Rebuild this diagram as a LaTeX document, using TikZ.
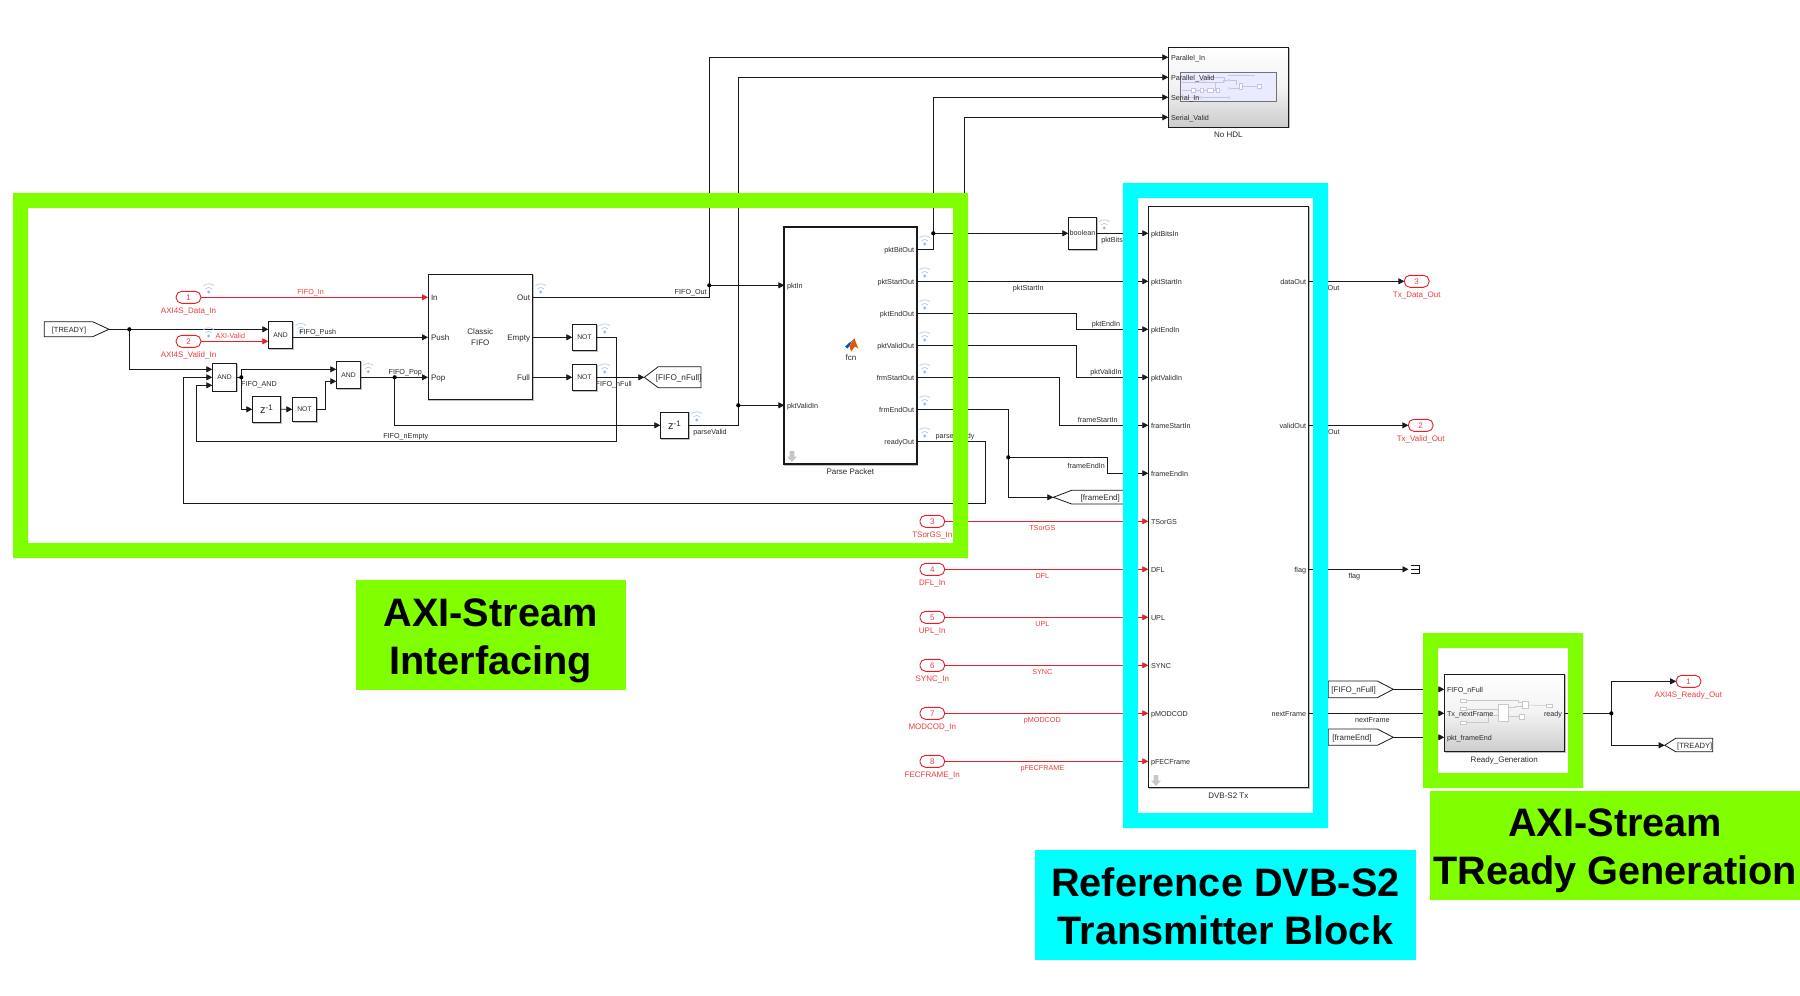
\documentclass[tikz,border=0pt]{standalone}
\usepackage{fontspec}
\setmainfont{Liberation Sans}
\usetikzlibrary{arrows.meta,shadows}
\definecolor{wirec}{HTML}{1A1A1A}
\definecolor{redw}{HTML}{E6202A}
\definecolor{redt}{HTML}{EE3C3C}
\definecolor{txtc}{HTML}{2A2A2A}
\definecolor{lime}{HTML}{80FF00}
\definecolor{aqua}{HTML}{00FFFF}
\definecolor{thumbc}{HTML}{C4C4DC}
\definecolor{thumbg}{HTML}{C8C8C8}
\definecolor{wifid}{HTML}{9CBEE0}
\definecolor{wifia}{HTML}{B5CDE5}
\newcommand{\bk}[7]{%
  \pgfmathsetmacro\bkcx{(#3+#5)/2}\pgfmathsetmacro\bkcy{(#4+#6)/2}%
  \pgfmathsetmacro\bkw{#5-#3}\pgfmathsetmacro\bkh{#6-#4}%
  \node[#1,minimum width=\bkw pt,minimum height=\bkh pt] (#2) at (\bkcx,\bkcy) {#7};}
\newcommand{\dn}[1]{\raisebox{-1pt}{#1}}
\tikzset{
  x=1pt,y=-1pt,
  wire/.style={draw=wirec,line width=0.8pt},
  redwire/.style={draw=redw,line width=0.8pt},
  arr/.style={-{Triangle[length=6pt,width=6pt]}},
  blk/.style={draw=wirec,line width=0.8pt,fill=white,inner sep=0pt,outer sep=0pt,align=center,text=txtc,font=\fontsize{8}{10}\selectfont,
     copy shadow={shadow xshift=0.8pt,shadow yshift=-0.8pt,draw=black!25,fill=black!25}},
  gblk/.style={blk,top color=white,bottom color=black!20,middle color=black!5},
  pill/.style={draw=redw,line width=0.9pt,fill=white,rounded corners=5.5pt,inner sep=0pt,outer sep=0pt,minimum width=24.7pt,minimum height=12pt,text=redt,font=\fontsize{8}{8}\selectfont},
  lab/.style={inner sep=0pt,outer sep=0pt,text=txtc,text height=6pt,text depth=0pt,font=\fontsize{7.2}{9}\selectfont},
  labb/.style={inner sep=0pt,outer sep=0pt,text=txtc,text height=6pt,text depth=0pt,font=\fontsize{8}{10}\selectfont},
  rlab/.style={inner sep=0pt,outer sep=0pt,text=redt,text height=6pt,text depth=0pt,font=\fontsize{7.2}{9}\selectfont},
  rlabb/.style={inner sep=0pt,outer sep=0pt,text=redt,text height=6pt,text depth=0pt,font=\fontsize{8}{10}\selectfont},
  junc/.style={circle,fill=black,inner sep=0pt,minimum size=4.2pt},
  capbox/.style={inner sep=0pt,outer sep=0pt,draw=none},
  bigb/.style={inner sep=0pt,outer sep=0pt,align=center,text=black,font=\fontsize{39.7}{48}\selectfont\bfseries},
  gotoshape/.style={draw=wirec,line width=0.8pt,fill=white,line join=miter},
  wifi/.pic={
    \fill[wifid] (0,0) circle (1.6);
    \draw[line width=0.7pt,draw=wifia] (-3.25,-3.25) arc[start angle=225,end angle=315,radius=4.6];
    \draw[line width=0.7pt,draw=wifia] (-5.27,-6.28) arc[start angle=230,end angle=310,radius=8.2];
  },
  gdown/.pic={
    \fill[black!22] (-2.4,-5.5) -- (2.4,-5.5) -- (2.4,0) -- (5,0) -- (0,5.5) -- (-5,0) -- (-2.4,0) -- cycle;
  }
}
\newcommand{\zinv}{{\fontsize{11}{11}\selectfont z\raisebox{3.2pt}{\fontsize{8}{8}\selectfont -1}}}
\begin{document}
\begin{tikzpicture}
\useasboundingbox (0,0) rectangle (1800,996);
\fill[white] (0,0) rectangle (1800,996);

% ---------- port coordinates
\coordinate (fifoIn) at (428,297.3);
\coordinate (fifoPush) at (428,337.3);
\coordinate (fifoPop) at (428,377.3);
\coordinate (fifoOut) at (532.7,297.3);
\coordinate (fifoEmpty) at (532.7,337.3);
\coordinate (fifoFull) at (532.7,377.3);
\coordinate (aoa) at (268.3,329.3);
\coordinate (aob) at (268.3,341.3);
\coordinate (aoo) at (292.7,337.3);
\coordinate (ata) at (212.3,369.3);
\coordinate (atb) at (212.3,377.3);
\coordinate (atc) at (212.3,385.3);
\coordinate (ato) at (236.7,377.3);
\coordinate (ara) at (336.3,369.3);
\coordinate (arb) at (336.3,381.3);
\coordinate (aro) at (360.7,377.3);
\coordinate (ppIn) at (784.3,285.3);
\coordinate (ppVal) at (784.3,405.3);
\coordinate (hdlA) at (1168.3,57.3);
\coordinate (hdlB) at (1168.3,77.3);
\coordinate (hdlC) at (1168.3,97.3);
\coordinate (hdlD) at (1168.3,117.3);
\coordinate (rgA) at (1444.3,689.3);
\coordinate (rgB) at (1444.3,713.3);
\coordinate (rgC) at (1444.3,737.3);
\coordinate (rgO) at (1564.7,713.3);
\foreach \n/\y in {Bit/249.3,Start/281.3,End/313.3,Vld/345.3,FS/377.3,FE/409.3,Rdy/441.3}
  \coordinate (pp\n) at (916.7,\y);
\foreach \n/\y in {Bits/233.3,Start/281.3,End/329.3,Vld/377.3,FS/425.3,FE/473.3,a/521.3,b/569.3,c/617.3,d/665.3,e/713.3,f/761.3}
  \coordinate (dvp\n) at (1148.3,\y);
\foreach \n/\y in {Data/281.3,Valid/425.3,Flag/569.3,Next/713.3}
  \coordinate (dvo\n) at (1308.7,\y);

% ---------- named blocks
\bk{blk}{fifo}{428}{274.5}{532.7}{399.7}{\raisebox{-1.2pt}{Classic}\\[0.5pt]\raisebox{-1.2pt}{FIFO}}
\bk{blk,font=\fontsize{6.8}{8}\selectfont}{andA}{268.3}{321.7}{292.7}{348.7}{\dn{AND}}
\bk{blk,font=\fontsize{6.8}{8}\selectfont}{andB}{212.3}{363.3}{236.7}{391}{\dn{AND}}
\bk{blk,font=\fontsize{6.8}{8}\selectfont}{andC}{336.3}{361.7}{360.7}{388.7}{\dn{AND}}
\bk{blk}{zA}{252.3}{395.9}{280.7}{422.7}{\zinv}
\bk{blk,font=\fontsize{6.8}{8}\selectfont}{notZ}{292.3}{397.3}{316.7}{421.3}{\dn{NOT}}
\bk{blk}{zB}{660.3}{411.9}{688.7}{438.7}{\zinv}
\bk{blk,font=\fontsize{6.8}{8}\selectfont}{notE}{572.3}{324.3}{596.7}{350.3}{\dn{NOT}}
\bk{blk,font=\fontsize{6.8}{8}\selectfont}{notF}{572.3}{364.3}{596.7}{390.3}{\dn{NOT}}
\bk{blk,line width=1.8pt}{parse}{784.3}{226.7}{916.7}{464}{}
\bk{blk,font=\fontsize{7.2}{9}\selectfont}{bool}{1068.3}{217.3}{1096.7}{249.3}{boolean}
\bk{blk}{dvb}{1148.3}{206.7}{1308.7}{787.3}{}
\bk{gblk}{hdl}{1168.3}{47.3}{1288.7}{127}{}
\bk{gblk}{rg}{1444.3}{674.7}{1564.7}{751.7}{}

% ---------- goto / from tags
\draw[gotoshape] (44.3,321.7) -- (92.7,321.7) -- (109,329.3) -- (92.7,336.7) -- (44.3,336.7) -- cycle;
\coordinate (treadyTip) at (109,329.3);
\node[lab,font=\fontsize{7.4}{9}\selectfont] (treadyTxt) at (69,329) {[TREADY]};
\draw[gotoshape] (644.3,377.3) -- (658.3,366.7) -- (701,366.7) -- (701,387.7) -- (658.3,387.7) -- cycle;
\coordinate (gfullTip) at (644.3,377.3);
\node[labb,font=\fontsize{8.2}{10}\selectfont] (gfullTxt) at (678.7,377) {[FIFO\_nFull]};
\draw[gotoshape] (1053.3,497.3) -- (1071.7,490.3) -- (1130,490.3) -- (1130,504) -- (1071.7,504) -- cycle;
\coordinate (gendTip) at (1053.3,497.3);
\node[labb] (gendTxt) at (1100.3,497.1) {[frameEnd]};
\draw[gotoshape] (1328.3,681) -- (1377.3,681) -- (1393.3,689.3) -- (1377.3,697.7) -- (1328.3,697.7) -- cycle;
\coordinate (ffullTip) at (1393.3,689.3);
\node[labb] (ffullTxt) at (1353.7,689) {[FIFO\_nFull]};
\draw[gotoshape] (1328.3,729) -- (1377.3,729) -- (1393.3,737.3) -- (1377.3,745.3) -- (1328.3,745.3) -- cycle;
\coordinate (fendTip) at (1393.3,737.3);
\node[labb] (fendTxt) at (1352,737) {[frameEnd]};
\draw[gotoshape] (1664.7,745.3) -- (1675.7,738.3) -- (1712.7,738.3) -- (1712.7,751.7) -- (1675.7,751.7) -- cycle;
\coordinate (gtrTip) at (1664.7,745.3);
\node[labb,font=\fontsize{7.6}{9}\selectfont] (gtrTxt) at (1694.7,745) {[TREADY]};

% ---------- ports (pills)
\node[pill] (inA) at (188.5,297.3) {1};
\node[pill] (inB) at (188.5,341.3) {2};
\node[rlabb] (inAl) at (188.5,310) {AXI4S\_Data\_In};
\node[rlabb] (inBl) at (188.5,354.3) {AXI4S\_Valid\_In};
\foreach \n/\k/\y/\t/\s in {a/3/521.3/TSorGS\_In/TSorGS,b/4/569.3/DFL\_In/DFL,c/5/617.3/UPL\_In/UPL,d/6/665.3/SYNC\_In/SYNC,e/7/713.3/MODCOD\_In/pMODCOD,f/8/761.3/FECFRAME\_In/pFECFRAME}{
  \draw[redwire,arr] (932.3,\y) -- (dvp\n);
  \node[pill] (in\n) at (932.3,\y) {\k};
  \node[rlabb] (in\n l) at (932.3,\y+13) {\t};
  \node[rlab] (sig\n) at (1042.3,\y+6.3) {\s};
}
\node[pill] (outD) at (1416.7,281.3) {3};
\node[rlabb] (outDl) at (1416.7,294.3) {Tx\_Data\_Out};
\node[pill] (outV) at (1420.7,425.3) {2};
\node[rlabb] (outVl) at (1420.7,438.3) {Tx\_Valid\_Out};
\node[pill] (outR) at (1688.5,681.3) {1};
\node[rlabb] (outRl) at (1688.3,694.3) {AXI4S\_Ready\_Out};

% ---------- connectors
\coordinate (jAc) at (129.3,329.3);
\coordinate (jBc) at (241.3,377.3);
\coordinate (jCc) at (394.7,377.3);
\coordinate (jDc) at (709.3,285.3);
\coordinate (jEc) at (738.3,405.3);
\coordinate (jFc) at (933.3,233.3);
\coordinate (jG) at (964.3,345.3);
\coordinate (jHc) at (1008.3,457.3);
\coordinate (jIc) at (1611.3,713.3);
\draw[wire,arr] (treadyTip) -- (aoa);
\draw[wire,arr] (jAc) |- (ata);
\draw[redwire,arr] (inA.east) -- (fifoIn);
\draw[redwire,arr] (inB.east) -- (aob);
\draw[wire,arr] (aoo) -- (fifoPush);
\draw[wire] (ato) -- (jBc);
\draw[wire,arr] (jBc) |- (ara);
\draw[wire,arr] (jBc) |- (zA.west);
\draw[wire,arr] (zA.east) -- (notZ.west);
\draw[wire,arr] (notZ.east) -- ++(9,0) |- (arb);
\draw[wire,arr] (aro) -- (fifoPop);
\draw[wire,arr] (jCc) |- (zB.west);
\draw[wire,arr] (fifoEmpty) -- (notE.west);
\draw[wire,arr] (notE.east) -- ++(20,0) -- ++(0,104) -- (196.7,441.3) |- (atc);
\draw[wire,arr] (fifoFull) -- (notF.west);
\draw[wire,arr] (notF.east) -- (gfullTip);
\draw[wire] (fifoOut) -| (jDc);
\draw[wire,arr] (jDc) -- (ppIn);
\draw[wire,arr] (jDc) |- (hdlA);
\draw[wire] (zB.east) -| (jEc);
\draw[wire,arr] (jEc) -- (ppVal);
\draw[wire,arr] (jEc) |- (hdlB);
\draw[wire] (ppBit) -| (jFc);
\draw[wire,arr] (jFc) -- (bool.west);
\draw[wire,arr] (jFc) |- (hdlC);
\draw[wire,arr] (jG) |- (hdlD);
\draw[wire,arr] (bool.east) -- (dvpBits);
\draw[wire,arr] (ppStart) -- (dvpStart);
\draw[wire,arr] (ppEnd) -- ++(159.6,0) |- (dvpEnd);
\draw[wire,arr] (ppVld) -- ++(159.6,0) |- (dvpVld);
\draw[wire,arr] (ppFS) -- ++(142.6,0) |- (dvpFS);
\draw[wire,arr] (ppFE) -- ++(91.6,0) |- (gendTip);
\draw[wire,arr] (jHc) -- ++(99,0) |- (dvpFE);
\draw[wire,arr] (ppRdy) -- ++(69,0) -- ++(0,62) -- (183.3,503.3) |- (atb);
\draw[wire,arr] (dvoData) -- (outD.west);
\draw[wire,arr] (dvoValid) -- (outV.west);
\coordinate (termIn) at (1408.5,569.3);
\draw[wire,arr] (dvoFlag) -- (termIn);
\node[inner sep=0pt,outer sep=0pt,minimum width=9pt,minimum height=8.7pt] (term) at (1415.2,569.3) {};
\draw[wire] (term.north west) -- (term.north east) -- (term.south east) -- (term.south west) (term.west) -- (term.east);
\draw[wire,arr] (dvoNext) -- (rgB);
\draw[wire,arr] (ffullTip) -- (rgA);
\draw[wire,arr] (fendTip) -- (rgC);
\draw[wire] (rgO) -- (jIc);
\draw[wire,arr] (jIc) |- (outR.west);
\draw[wire,arr] (jIc) |- (gtrTip);

% ---------- junctions
\node[junc] (jA) at (jAc) {};
\node[junc] (jB) at (jBc) {};
\node[junc] (jC) at (jCc) {};
\node[junc] (jD) at (jDc) {};
\node[junc] (jE) at (jEc) {};
\node[junc] (jF) at (jFc) {};
\node[junc] (jH) at (jHc) {};
\node[junc] (jI) at (jIc) {};

% ---------- wireless icons
\foreach \px/\py in {208.7/292,208.7/336,300.7/331.7,368.3/371.7,540.7/292,604.7/332,604.7/372,696.7/420,924.7/244,924.7/276,924.7/308,924.7/340,924.7/372,924.7/404,924.7/436,1104.3/228}
  \pic at (\px,\py) {wifi};

% ---------- thumbnails
\bk{draw=black!55,line width=0.8pt,fill=blue!8!white,inner sep=0pt}{thumb}{1180.7}{72.7}{1276.7}{101.3}{}
\begin{scope}[draw=thumbc,line width=0.5pt]
  \draw (1182,82.3) -- (1223,82.3) -- (1223,80) -- (1228,80);
  \draw (1182,90.3) -- (1218,90.3);
  \draw (1182,97.7) -- (1228,97.7);
  \draw (1230,88.5) -- (1239,88.5) (1230,80) -- (1236,80) -- (1236,85);
  \draw (1241,86) -- (1257,86);
  \draw (1197,82) .. controls (1200,80) and (1203,80) .. (1206,82);
  \draw (1215,82.3) -- (1215,90) (1204,77) -- (1224,77) -- (1224,82);
  \draw (1228,75) -- (1255,75);
\end{scope}
\begin{scope}[fill=white,draw=thumbc,line width=0.4pt]
  \filldraw (1191,88.6) rectangle (1195.3,92);
  \filldraw (1200,88.6) rectangle (1203.3,92);
  \filldraw (1207,88.6) rectangle (1213.3,92);
  \filldraw (1216,88.6) rectangle (1219,92);
  \filldraw (1229,80) circle (1.2);
  \filldraw (1229,88.5) circle (1.2);
  \filldraw (1229,97.7) circle (1.2);
  \filldraw (1239.5,82.7) rectangle (1241.7,89.3);
  \filldraw (1257,84.3) rectangle (1261.5,88);
  \filldraw (1201,97.7) circle (1.2);
\end{scope}
\begin{scope}[draw=thumbg,line width=0.5pt]
  \draw (1466,700.3) -- (1518.3,700.3) -- (1518.3,702.7) -- (1521.7,702.7);
  \draw (1466,709) -- (1498.3,709);
  \draw (1466,722.7) -- (1488.3,722.7) -- (1488.3,715) -- (1498.3,715);
  \draw (1507.7,707.7) -- (1515,707.7) -- (1515,706) -- (1521.7,706);
  \draw (1507.7,716) -- (1519,716);
  \draw (1527.7,705) -- (1546,705.7);
\end{scope}
\begin{scope}[fill=white,draw=thumbg,line width=0.4pt]
  \filldraw (1460.3,698.8) rectangle (1466.3,701.8);
  \filldraw (1460.3,707.5) rectangle (1466.3,710.5);
  \filldraw (1460.3,721.2) rectangle (1466.3,724.2);
  \filldraw (1498.3,704.3) rectangle (1507.7,720.7);
  \filldraw (1521.7,701.3) rectangle (1527.7,708.3);
  \filldraw (1519,714.3) rectangle (1523.7,718.7);
  \filldraw (1546.3,704.2) rectangle (1552.3,707.2);
\end{scope}

% ---------- block port labels
\node[labb,anchor=west] (tIn) at (431,297.3) {In};
\node[labb,anchor=west] (tPush) at (431,337.3) {Push};
\node[labb,anchor=west] (tPop) at (431,377.3) {Pop};
\node[labb,anchor=east] (tOut) at (530,297.3) {Out};
\node[labb,anchor=east] (tEmpty) at (530,337.3) {Empty};
\node[labb,anchor=east] (tFull) at (530,377.3) {Full};
\node[lab,anchor=west] (tpIn) at (787,285.3) {pktIn};
\node[lab,anchor=west] (tpVal) at (787,405.3) {pktValidIn};
\foreach \n/\t/\y in {a/pktBitOut/249.3,b/pktStartOut/281.3,c/pktEndOut/313.3,d/pktValidOut/345.3,e/frmStartOut/377.3,f/frmEndOut/409.3,g/readyOut/441.3}
  \node[lab,anchor=east] (tpo\n) at (914,\y) {\t};
\foreach \n/\t/\y in {a/pktBitsIn/233.3,b/pktStartIn/281.3,c/pktEndIn/329.3,d/pktValidIn/377.3,e/frameStartIn/425.3,f/frameEndIn/473.3,g/TSorGS/521.3,h/DFL/569.3,i/UPL/617.3,j/SYNC/665.3,k/pMODCOD/713.3,l/pFECFrame/761.3}
  \node[lab,anchor=west] (tdi\n) at (1151,\y) {\t};
\foreach \n/\t/\y in {a/dataOut/281.3,b/validOut/425.3,c/flag/569.3,d/nextFrame/713.3}
  \node[lab,anchor=east] (tdo\n) at (1306,\y) {\t};
\foreach \n/\t/\y in {a/Parallel\_In/57.3,b/Parallel\_Valid/77.3,c/Serial\_In/97.3,d/Serial\_Valid/117.3}
  \node[lab,anchor=west] (thd\n) at (1171,\y) {\t};
\node[lab,anchor=west] (trga) at (1447,689.3) {FIFO\_nFull};
\node[lab,anchor=west] (trgb) at (1447,713.3) {Tx\_nextFrame};
\node[lab,anchor=west] (trgc) at (1447,737.3) {pkt\_frameEnd};
\node[lab,anchor=east] (trgo) at (1562,713.3) {ready};

% ---------- MATLAB function icon
\fill[blue!55!cyan!75!black] (845,346.7) -- (849,343) -- (852,341) -- (854.3,338.3) -- (851,342.8) -- (849.5,346) -- (847.5,348.5) -- cycle;
\fill[orange!75!red!90!black] (854.3,338.3) -- (858.3,348.5) -- (855,346.5) -- (851,351.7) -- (849.5,346) -- (852,342) -- cycle;
\node[labb] (fcnTxt) at (851,357) {fcn};
\pic at (792,456.5) {gdown};
\pic at (1156,780.5) {gdown};

% ---------- block titles
\node[labb] (tParse) at (850.3,471) {Parse Packet};
\node[labb] (tDvb) at (1228.3,795) {DVB-S2 Tx};
\node[labb] (tHdl) at (1228.3,134.3) {No HDL};
\node[labb] (tRg) at (1504.3,759.3) {Ready\_Generation};

% ---------- signal labels
\node[rlab] (sFifoIn) at (310.7,291.7) {FIFO\_In};
\node[rlab] (sAxiV) at (230.3,335.7) {AXI-Valid};
\node[lab] (sPush) at (317.7,331.7) {FIFO\_Push};
\node[lab] (sAnd) at (259,383.7) {FIFO\_AND};
\node[lab] (sPop) at (405.3,371.7) {FIFO\_Pop};
\node[lab] (sEmpty) at (405.7,435.7) {FIFO\_nEmpty};
\node[lab] (sFull) at (613.7,383.7) {FIFO\_nFull};
\node[lab] (sOut) at (690.7,291.7) {FIFO\_Out};
\node[lab] (sVal) at (710,431.7) {parseValid};
\node[lab,anchor=west] (sRdy) at (935.7,435.7) {parseReady};
\node[lab,anchor=west] (sBits) at (1101.3,239.3) {pktBits};
\node[lab] (sStart) at (1028.3,287.7) {pktStartIn};
\node[lab] (sEnd) at (1106,323.7) {pktEndIn};
\node[lab] (sVld) at (1106,371.7) {pktValidIn};
\node[lab] (sFS) at (1097.7,419.3) {frameStartIn};
\node[lab] (sFE) at (1086.3,465.7) {frameEndIn};
\node[lab,anchor=west] (sOutA) at (1327.7,287.3) {Out};
\node[lab,anchor=west] (sOutB) at (1328,431.7) {Out};
\node[lab] (sFlag) at (1354.3,575.7) {flag};
\node[lab] (sNext) at (1372.3,719.7) {nextFrame};

% ---------- highlight frames
\fill[lime,even odd rule] (13,193) rectangle (968,558) (28,208) rectangle (953,543);
\fill[aqua,even odd rule] (1123,183) rectangle (1328,828) (1138,198) rectangle (1313,813);
\fill[lime,even odd rule] (1423,633) rectangle (1583,788) (1438,648) rectangle (1568,773);

% ---------- captions
\bk{capbox,fill=lime}{capA}{355.5}{580.3}{625.7}{690}{}
\bk{capbox,fill=aqua}{capB}{1035.4}{850.3}{1415.5}{960.3}{}
\bk{capbox,fill=lime}{capC}{1430.4}{790.5}{1800}{900}{}
\node[bigb,yshift=-5.7pt] (capAt) at (capA.center) {AXI-Stream\\Interfacing};
\node[bigb,yshift=-1.2pt] (capBt) at (capB.center) {Reference DVB-S2\\Transmitter Block};
\node[bigb,yshift=-5pt] (capCt) at (capC.center) {AXI-Stream\\TReady Generation};
\end{tikzpicture}
\end{document}
